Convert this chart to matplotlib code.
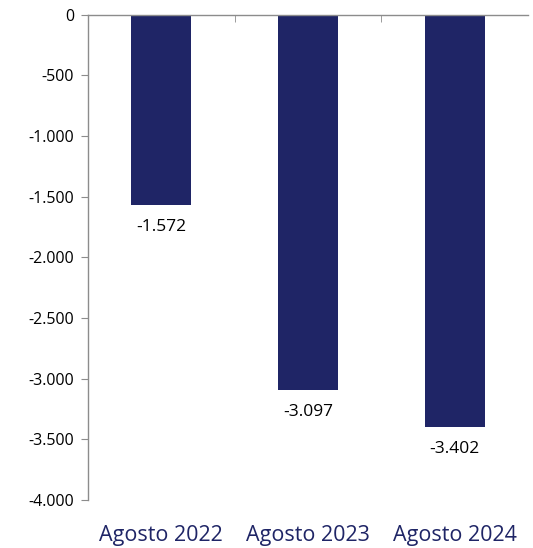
import matplotlib.pyplot as plt
import numpy as np

categories = ['Agosto 2022', 'Agosto 2023', 'Agosto 2024']
values = [-1572, -3097, -3402]
yticks = [0, -500, -1000, -1500, -2000, -2500, -3000, -3500, -4000]

plt.rcParams['font.family'] = ['Open Sans', 'DejaVu Sans']

fig = plt.figure(figsize=(5.33, 5.48), dpi=100)
ax = fig.add_axes([0.165, 0.088, 0.826, 0.885])

navy = '#1f2566'
grey = '#8c8c8c'
x = np.arange(len(categories))
ax.bar(x, values, width=0.41, color=navy)

for xi, v in zip(x, values):
    ax.annotate(f'{v:,}'.replace(',', '.'), (xi, v), xytext=(0, -10),
                textcoords='offset points', ha='center', va='top', fontsize=12.5)

ax.set_xlim(-0.5, len(categories) - 0.5)
ax.set_ylim(-4000, 0)
ax.set_yticks(yticks)
ax.set_yticklabels([f'{t:,}'.replace(',', '.') for t in yticks], fontsize=11.5)
ax.set_xticks(x)
ax.set_xticklabels(categories, fontsize=15.5, color=navy)
ax.set_xticks(x[:-1] + 0.5, minor=True)
ax.tick_params(axis='x', which='major', length=0, pad=18)
ax.tick_params(axis='x', which='minor', bottom=False, top=True, direction='in', length=5, color=grey)
ax.tick_params(axis='y', direction='out', length=5, color=grey, pad=5)

for s in ['bottom', 'right']:
    ax.spines[s].set_visible(False)
for s in ['top', 'left']:
    ax.spines[s].set_color(grey)
    ax.spines[s].set_linewidth(1)

fig.savefig('out.png', dpi=100)
